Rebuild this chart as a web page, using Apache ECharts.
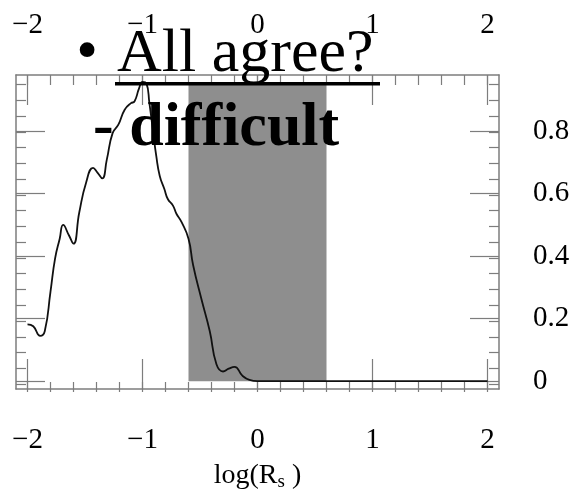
<!DOCTYPE html>
<html>
<head>
<meta charset="utf-8">
<script src="https://cdn.jsdelivr.net/npm/echarts@6/dist/echarts.min.js"></script>
<style>
html,body{margin:0;padding:0;background:#fff;}
#show{width:576px;height:497px;}
</style>
</head>
<body>
<div id="show"></div>
<script>
// 曲线: log(Rs) 与对应的分布值
var logRs = [-2.0, -1.95, -1.89, -1.85, -1.80, -1.76, -1.72, -1.69, -1.64, -1.60, -1.55, -1.49, -1.43, -1.39, -1.35, -1.31, -1.26, -1.21, -1.155, -1.10, -1.07, -1.03, -1.00, -0.966, -0.94, -0.91, -0.88, -0.85, -0.81, -0.78, -0.735, -0.705, -0.66, -0.60, -0.56, -0.49, -0.415, -0.357, -0.30, -0.25, -0.20, -0.13, -0.07, 0, 0.25, 0.5, 1.0, 1.5, 2.0];
var prob = [0.182, 0.176, 0.145, 0.160, 0.287, 0.393, 0.456, 0.50, 0.467, 0.44, 0.54, 0.636, 0.683, 0.667, 0.649, 0.71, 0.794, 0.821, 0.869, 0.89, 0.895, 0.937, 0.958, 0.953, 0.89, 0.805, 0.72, 0.657, 0.615, 0.583, 0.562, 0.536, 0.509, 0.456, 0.372, 0.266, 0.160, 0.054, 0.031, 0.04, 0.046, 0.017, 0.004, 0, 0, 0, 0, 0, 0];
// 灰色区间
var bandX = [-0.6, 0.6];
var bandY = [0, 0.95];
// 刻度
var xMajor = [-2, -1, 0, 1, 2];
var xMinor = [-2, -1.8, -1.6, -1.4, -1.2, -1, -0.8, -0.6, -0.4, -0.2, 0, 0.2, 0.4, 0.6, 0.8, 1, 1.2, 1.4, 1.6, 1.8, 2];
var yMajor = [0, 0.2, 0.4, 0.6, 0.8];
var yMinor = [0, 0.05, 0.1, 0.15, 0.2, 0.25, 0.3, 0.35, 0.4, 0.45, 0.5, 0.55, 0.6, 0.65, 0.7, 0.75, 0.8, 0.85, 0.9, 0.95];

var font = '"Liberation Serif", "Times New Roman", serif';
var frameColor = '#7d7d7d';
var gridBox = {left: 16, top: 75, width: 483, height: 317};

function minusFmt(v) {
    return v < 0 ? '\u2212' + (-v) : String(v);
}

// 坐标轴: 两个grid叠在一起, 一个画长刻度, 一个画短刻度
function xAx(grid, pos, ticks, len, label, margin) {
    return {
        type: 'value', gridIndex: grid, position: pos, min: -2.1, max: 2.1,
        axisLine: {show: grid == 0, onZero: false, lineStyle: {color: frameColor, width: 1.5}},
        axisTick: {show: true, inside: true, length: len, customValues: ticks, lineStyle: {color: frameColor, width: 1.2}},
        axisLabel: {show: label, customValues: xMajor, margin: margin, color: '#000', fontFamily: font, fontSize: 29, formatter: minusFmt},
        splitLine: {show: false}
    };
}
function yAx(grid, pos, ticks, len, label) {
    return {
        type: 'value', gridIndex: grid, position: pos, min: -0.025, max: 0.98,
        axisLine: {show: grid == 0, onZero: false, lineStyle: {color: frameColor, width: 1.5}},
        axisTick: {show: true, inside: true, length: len, customValues: ticks, lineStyle: {color: frameColor, width: 1.2}},
        axisLabel: {show: label, customValues: yMajor, margin: 34, color: '#000', fontFamily: font, fontSize: 29, align: 'left'},
        splitLine: {show: false}
    };
}

var myChart = echarts.init(document.getElementById('show'), null, {renderer: 'canvas'});
var curve = [];
for (var i = 0; i < logRs.length; i++) {
    curve.push([logRs[i], prob[i]]);
}

var xBottom = xAx(0, 'bottom', xMajor, 30, true, 37);
xBottom.name = '{a|log(R}{s|s}{a| )}';
xBottom.nameLocation = 'middle';
xBottom.nameGap = 70;
xBottom.nameTextStyle = {
    rich: {
        a: {fontSize: 28, fontFamily: font, color: '#000'},
        s: {fontSize: 19, fontFamily: font, color: '#000', padding: [14, 0, 0, 0]}
    }
};

var option = {
    animation: false,
    backgroundColor: '#fff',
    grid: [
        Object.assign({}, gridBox),
        Object.assign({}, gridBox)
    ],
    xAxis: [
        xBottom,
        xAx(0, 'top', xMajor, 30, true, 35),
        xAx(1, 'bottom', xMinor, 10, false, 0),
        xAx(1, 'top', xMinor, 10, false, 0)
    ],
    yAxis: [
        yAx(0, 'left', yMajor, 29, false),
        yAx(0, 'right', yMajor, 29, true),
        yAx(1, 'left', yMinor, 10, false),
        yAx(1, 'right', yMinor, 10, false)
    ],
    series: [
        {
            type: 'line',
            xAxisIndex: 0,
            yAxisIndex: 0,
            data: curve,
            smooth: 0.5,
            symbol: 'none',
            lineStyle: {color: '#111', width: 1.8},
            z: 5,
            markArea: {
                silent: true,
                itemStyle: {color: '#8e8e8e', opacity: 1},
                data: [[{xAxis: bandX[0], yAxis: bandY[0]}, {xAxis: bandX[1], yAxis: bandY[1]}]]
            }
        }
    ],
    graphic: [
        {type: 'text', x: 87, y: 54, z: 100, style: {text: '\u2022', fontSize: 62, fontFamily: font, fill: '#000', align: 'center', verticalAlign: 'middle'}},
        {type: 'text', x: 117, y: 55, z: 100, style: {text: 'All agree?', fontSize: 62, fontFamily: font, fill: '#000', align: 'left', verticalAlign: 'middle'}},
        {type: 'rect', z: 100, shape: {x: 115, y: 82, width: 265, height: 3.5}, style: {fill: '#000'}},
        {type: 'text', x: 93, y: 129, z: 100, style: {text: '- difficult', fontSize: 62, fontWeight: 'bold', fontFamily: font, fill: '#000', align: 'left', verticalAlign: 'middle'}}
    ]
};
myChart.setOption(option);
</script>
</body>
</html>
